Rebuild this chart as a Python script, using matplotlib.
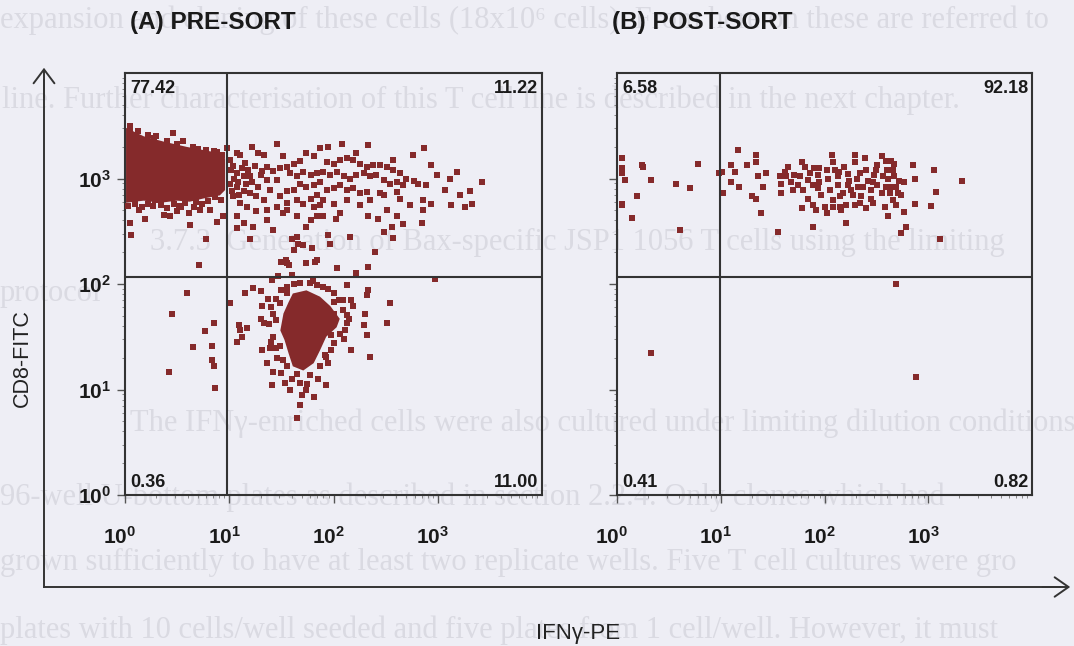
import matplotlib
matplotlib.use("Agg")
import matplotlib.pyplot as plt
import matplotlib.transforms as mtransforms
import numpy as np

plt.rcParams['font.family'] = ['Liberation Sans', 'DejaVu Sans']
plt.rcParams['mathtext.fontset'] = 'custom'
plt.rcParams['mathtext.rm'] = 'Liberation Sans'
plt.rcParams['mathtext.bf'] = 'Liberation Sans:bold'

# Events are stored as log10 of the fluorescence (x: IFNg-PE, y: CD8-FITC)

# (A) pre-sort: individual events
pre_x = [0.46, 0.56, 0.30, 0.05, 0.88, 0.78, 0.98,
         0.19, 0.05, 0.06, 0.13, 0.29, 0.37, 0.43, 0.62, 0.61, 0.78, 0.88, 0.72, 0.82,
         0.94, 0.66, 0.54, 0.50,
         1.07, 1.10, 1.22, 1.28, 1.33, 1.46, 1.52, 1.36, 1.42, 1.49, 1.55, 1.07, 1.14,
         1.20, 1.30, 1.36, 1.46, 1.07, 1.14, 1.20, 1.26, 1.33, 1.39, 1.49, 1.55, 1.10,
         1.17, 1.26, 1.36, 1.46, 1.52, 1.07, 1.14, 1.23, 1.36, 1.42, 1.07, 1.20, 1.54,
         1.01, 1.01, 1.02, 1.04,
         2.08, 2.33, 2.87, 2.76, 1.87, 1.95, 1.74, 2.22, 2.57, 2.94, 3.18, 3.42, 2.99,
         3.12, 3.31, 3.21, 3.33, 3.26, 3.13, 3.07, 2.94, 2.86, 2.86, 2.85, 2.73, 2.67,
         2.61, 2.56, 2.57, 2.48, 2.43, 2.33, 2.51, 2.40, 2.16, 1.97, 1.95, 2.06, 2.02,
         1.90, 1.84, 1.78, 1.74, 1.65, 1.55, 1.55, 1.62, 1.60, 1.65, 1.66, 1.71, 1.79,
         1.62, 1.74, 1.84, 1.55, 2.03, 2.33,
         1.55, 1.62, 1.68, 1.81, 1.94, 2.00, 2.06, 2.13, 2.19, 2.25, 2.32, 2.38, 2.45,
         2.51, 2.57, 2.64, 2.70, 2.77, 2.81, 2.89, 1.58, 1.65, 1.71, 1.78, 1.84, 1.90,
         1.97, 2.03, 2.10, 2.16, 2.22, 2.29, 2.35, 2.41, 2.48, 2.54, 2.61, 2.67, 1.68,
         1.74, 1.81, 1.87, 1.94, 2.00, 2.06, 2.13, 2.19, 2.25, 2.32, 2.45, 2.48, 2.61,
         2.64, 1.78, 1.84, 1.90, 1.71, 1.65, 1.81, 1.87, 2.00, 2.13, 2.25, 2.35,
         1.50, 1.57, 1.74, 1.82, 2.03, 2.33, 2.22, 1.47, 1.60, 2.97,
         1.01, 0.85, 0.77, 0.83, 0.83, 0.85, 0.86, 1.15, 1.23, 1.30, 1.37, 1.31, 1.30,
         1.33, 1.09, 1.10, 1.17, 1.12, 1.07, 1.31, 1.39, 1.45, 1.36, 1.42, 1.41, 1.53,
         1.68, 1.74, 1.81, 1.68, 1.65, 1.93, 2.13, 2.32, 2.33, 2.54, 2.51, 2.32, 2.29,
         2.30, 2.19, 2.17, 2.09, 2.00, 2.17, 2.35, 1.98, 1.92, 2.11, 2.13, 2.00, 1.84,
         1.77, 1.50, 1.55, 1.41,
         1.45, 1.42, 1.49, 1.68, 1.90, 2.00, 2.09, 2.13, 2.06, 2.00, 1.93, 1.87, 1.77,
         1.65, 1.55, 1.52, 1.49, 1.42,
         0.59, 0.45, 0.65, 0.42, 0.71,
         0.03, 0.10, 0.16, 0.22, 0.27, 0.35, 0.40, 0.47, 0.52, 0.58, 0.68, 0.74, 0.80,
         0.86, 0.92, 0.05, 0.12, 0.22, 0.28, 0.40, 0.50, 0.65, 0.70, 0.85, 0.93,
         1.04, 1.05, 1.08, 1.12, 1.15, 1.18, 1.22, 1.25, 1.28, 1.31, 1.03, 1.09, 1.16,
         1.45, 1.40, 1.55, 1.62, 1.80, 1.95, 2.05, 2.15, 2.10, 1.98, 1.95, 1.85, 1.75,
         1.60, 1.50, 1.46, 1.40, 1.38, 1.58, 1.70]
pre_y = [3.43, 3.36, 3.40, 3.44, 3.25, 3.27, 3.29,
         2.62, 2.58, 2.46, 2.70, 2.80, 2.65, 2.64, 2.56, 2.67, 2.43, 2.59, 2.70, 2.70,
         2.64, 2.73, 2.73, 2.69,
         3.24, 3.22, 3.30, 3.24, 3.22, 3.33, 3.21, 3.11, 3.07, 3.10, 3.11, 3.05, 3.02,
         3.02, 3.03, 2.99, 2.99, 2.92, 2.88, 2.86, 2.83, 2.80, 2.89, 2.83, 2.77, 2.77,
         2.73, 2.69, 2.70, 2.73, 2.67, 2.64, 2.58, 2.54, 2.61, 2.51, 2.53, 2.43, 2.23,
         3.18, 2.95, 3.08, 2.83,
         3.33, 3.32, 3.29, 3.22, 3.29, 3.30, 3.24, 3.24, 3.18, 3.13, 3.06, 2.97, 3.03,
         3.00, 2.88, 2.84, 2.76, 2.73, 2.75, 2.89, 2.76, 2.80, 2.70, 2.58, 2.75, 2.57,
         2.64, 2.54, 2.44, 2.49, 2.62, 2.64, 2.70, 2.30, 2.45, 2.38, 2.46, 2.67, 2.62,
         2.64, 2.64, 2.61, 2.54, 2.64, 2.70, 2.88, 2.89, 2.43, 2.45, 2.38, 2.37, 2.34,
         2.32, 2.20, 2.23, 2.20, 2.15, 2.16,
         3.11, 3.14, 3.17, 3.21, 3.16, 3.14, 3.18, 3.19, 3.18, 3.14, 3.11, 3.13, 3.13,
         3.11, 3.08, 3.05, 3.00, 2.98, 2.95, 2.94, 3.05, 3.02, 3.06, 3.03, 3.05, 3.06,
         3.03, 3.06, 3.02, 3.00, 3.03, 3.05, 3.02, 3.03, 2.99, 2.95, 2.97, 2.94, 2.95,
         2.92, 2.94, 2.97, 2.89, 2.91, 2.94, 2.89, 2.91, 2.86, 2.87, 2.86, 2.84, 2.87,
         2.81, 2.81, 2.84, 2.80, 2.76, 2.80, 2.73, 2.75, 2.76, 2.80, 2.75, 2.80,
         2.21, 2.18, 2.20, 2.21, 2.15, 2.16, 2.10, 2.08, 2.09, 2.05,
         1.82, 1.63, 1.55, 1.41, 1.28, 1.22, 1.01, 1.91, 1.96, 1.93, 1.86, 1.79, 1.67,
         1.63, 1.61, 1.56, 1.58, 1.50, 1.45, 1.37, 1.39, 1.39, 1.25, 1.17, 1.04, 1.06,
         1.06, 1.00, 0.93, 0.85, 0.73, 1.04, 1.99, 1.90, 1.94, 1.82, 1.63, 1.52, 1.61,
         1.72, 1.79, 1.85, 1.85, 1.83, 1.37, 1.31, 1.37, 1.33, 1.56, 1.71, 1.72, 1.99,
         2.01, 1.94, 1.91, 2.04,
         1.66, 1.72, 1.82, 2.01, 1.97, 1.91, 1.75, 1.63, 1.53, 1.44, 1.31, 1.22, 1.14,
         1.15, 1.22, 1.28, 1.41, 1.50,
         1.91, 1.72, 1.40, 1.17, 2.18,
         2.74, 2.76, 2.73, 2.76, 2.74, 2.75, 2.72, 2.76, 2.74, 2.77, 2.78, 2.76, 2.79,
         2.82, 2.80, 3.50, 3.45, 3.41, 3.38, 3.36, 3.33, 3.30, 3.28, 3.26, 3.22,
         3.12, 3.00, 2.97, 3.10, 3.15, 3.08, 2.97, 3.12, 2.92, 3.07, 2.88, 2.84, 2.95,
         1.86, 1.78, 1.97, 2.00, 2.03, 1.95, 1.85, 1.67, 1.48, 1.52, 1.25, 1.10, 1.05,
         1.10, 1.16, 1.30, 1.45, 1.62, 1.00, 0.95]

# (A) saturated regions where events merge into a solid patch (outline vertices)
pre_cd8_core_x = [0.01, 0.18, 0.37, 0.59, 0.75, 0.91, 0.96, 0.96, 0.91, 0.75, 0.62,
                  0.50, 0.34, 0.18, 0.01]
pre_cd8_core_y = [3.48, 3.40, 3.35, 3.30, 3.27, 3.24, 3.19, 2.89, 2.84, 2.81, 2.78,
                  2.79, 2.77, 2.79, 2.77]
pre_ifn_core_x = [1.61, 1.74, 1.87, 1.97, 2.06, 2.03, 1.93, 1.87, 1.81, 1.71, 1.61,
                  1.57, 1.53, 1.49, 1.52, 1.57]
pre_ifn_core_y = [1.91, 1.94, 1.88, 1.79, 1.67, 1.59, 1.50, 1.37, 1.25, 1.18, 1.22,
                  1.34, 1.47, 1.56, 1.72, 1.83]

# (B) post-sort events
post_x = [0.05, 0.05, 0.05, 0.08, 0.05, 0.14, 0.19, 0.24, 0.25, 0.33, 0.57, 0.61,
          0.70, 0.78, 0.98, 0.05, 0.33,
          1.01, 1.02, 1.10, 1.14, 1.17, 1.10, 1.18, 1.25, 1.30, 1.34, 1.34, 1.34, 1.36,
          1.41, 1.39, 1.44, 1.55, 1.58, 1.58, 1.57, 1.62, 1.65, 1.68, 1.71, 1.74, 1.78,
          1.78, 1.81, 1.84, 1.84, 1.89, 1.89, 1.90, 1.94, 1.94, 1.97, 2.00, 2.02, 2.03,
          2.07, 2.08, 2.10, 2.13, 2.13, 2.15, 2.15, 2.16, 2.19, 2.21, 2.23, 2.23, 2.26,
          2.29, 2.29, 2.29, 2.31, 2.32, 2.35, 2.39, 2.40, 2.40, 2.42, 2.45, 2.45, 2.48,
          2.51, 2.51, 2.55, 2.55, 2.58, 2.60, 2.61, 2.61, 2.64, 2.64, 2.66, 2.67, 2.67,
          2.69, 2.71, 2.74, 2.74, 2.77, 2.77, 2.79, 2.85, 2.87, 2.87, 3.03, 3.06, 3.07,
          3.11, 3.33,
          1.70, 1.79, 1.89, 1.95, 2.05, 2.08, 2.18, 2.27, 2.37, 2.47, 2.56, 2.59, 2.63,
          2.69, 2.72, 2.50, 2.34, 2.24, 2.14, 2.02, 1.95, 1.86, 1.76, 1.63, 2.47, 2.34,
          2.21, 2.08, 1.92, 2.66, 2.59,
          2.69, 2.88]
post_y = [3.19, 3.10, 3.05, 2.99, 2.75, 2.63, 2.83, 3.13, 3.11, 2.99, 2.95, 2.51,
          2.91, 3.14, 3.05, 2.76, 1.35,
          3.06, 2.86, 3.13, 3.06, 3.27, 2.97, 2.92, 3.13, 2.83, 2.81, 3.22, 3.16, 3.02,
          2.92, 2.67, 3.05, 2.49, 2.86, 2.95, 3.02, 3.06, 3.11, 2.97, 3.03, 2.94, 3.16,
          2.72, 3.11, 2.99, 2.81, 2.75, 2.54, 3.10, 3.03, 2.91, 2.84, 2.73, 2.67, 3.00,
          3.22, 3.16, 3.08, 3.02, 2.94, 2.83, 2.73, 2.70, 3.11, 2.58, 3.04, 2.94, 2.89,
          3.22, 3.16, 2.75, 3.00, 2.92, 2.83, 3.19, 3.08, 2.72, 2.98, 2.89, 2.81, 3.03,
          3.13, 2.94, 3.21, 2.86, 2.73, 3.08, 3.00, 2.64, 3.17, 2.92, 2.80, 3.14, 3.02,
          2.75, 2.86, 2.84, 2.48, 2.97, 2.68, 2.54, 3.13, 3.00, 2.76, 2.74, 3.08, 2.87,
          2.43, 2.98,
          2.89, 2.89, 2.94, 2.97, 2.89, 2.80, 2.86, 2.84, 2.92, 2.97, 3.02, 2.92, 2.86,
          2.92, 2.98, 3.08, 3.05, 2.98, 3.06, 3.08, 3.10, 3.05, 3.02, 3.02, 2.77, 2.77,
          2.75, 2.73, 2.70, 3.08, 3.17,
          2.00, 1.12]

# quadrant gates (log10) and percentages: UL, UR, LL, LR
pre_gate = (0.98, 2.07)
post_gate = (0.99, 2.07)
pre_pct = ['77.42', '11.22', '0.36', '11.00']
post_pct = ['6.58', '92.18', '0.41', '0.82']
decades = [0, 1, 2, 3]

# faint text showing through from the other side of the page: (x px, y px, text)
page_lines = [
    (0, 20, "expansion and cloning of these cells (18x10\u2076 cells). From here on these are referred to"),
    (2, 100, "line. Further characterisation of this T cell line is described in the next chapter."),
    (150, 242, "3.7.3  Generation of Bax-specific JSP1 1056 T cells using the limiting"),
    (0, 293, "protocol"),
    (130, 423, "The IFN\u03b3-enriched cells were also cultured under limiting dilution conditions"),
    (0, 497, "96-well U-bottom plates as described in section 2.2.4. Only clones which had"),
    (0, 562, "grown sufficiently to have at least two replicate wells. Five T cell cultures were gro"),
    (0, 630, "plates with 10 cells/well seeded and five plates from 1 cell/well. However, it must"),
]

W, H = 1074, 646
bg = '#eeeef5'
dot = '#852a2b'
ink = '#333333'

fig = plt.figure(figsize=(W / 100, H / 100), dpi=100, facecolor=bg)

# full-figure layer in pixel units for the page text and the outer axis arrows
base = fig.add_axes([0, 0, 1, 1], zorder=0)
base.set_xlim(0, W)
base.set_ylim(H, 0)
base.axis('off')
for px, py, txt in page_lines:
    base.text(px, py, txt, fontsize=22, family='Liberation Serif', color='#dadae2',
              va='center', ha='left', zorder=0)
base.plot([44, 44], [587, 80], color=ink, lw=1.4, zorder=2)
base.plot([44, 1060], [587, 587], color=ink, lw=1.4, zorder=2)
base.annotate('', xy=(44, 65), xytext=(44, 100),
              arrowprops=dict(arrowstyle='->,head_length=1.0,head_width=0.75',
                              mutation_scale=10, lw=1.4, color=ink))
base.annotate('', xy=(1073, 587), xytext=(1040, 587),
              arrowprops=dict(arrowstyle='->,head_length=1.0,head_width=0.7',
                              mutation_scale=10, lw=1.4, color=ink))
base.text(22, 358, 'CD8-FITC', rotation=90, fontsize=15.5, color='#222222',
          ha='center', va='center', zorder=3)
base.text(578, 633, 'IFN\u03b3-PE', fontsize=16, color='#222222', ha='center',
          va='center', zorder=3)


def panel(left_px, width_px, xs, ys, gate, pct, title, title_x, label_y, cores=()):
    ax = fig.add_axes([left_px / W, (H - 495) / H, width_px / W, 422 / H], zorder=3)
    ax.set_facecolor('none')
    ax.set_xscale('log')
    ax.set_yscale('log')
    for cx, cy in cores:
        ax.fill(10 ** np.array(cx), 10 ** np.array(cy), color=dot, lw=0, zorder=2)
    ax.scatter(10 ** np.array(xs), 10 ** np.array(ys), s=14, marker='s', color=dot,
               linewidths=0, zorder=3)
    ax.axvline(10 ** gate[0], color=ink, lw=1.5, zorder=4)
    ax.axhline(10 ** gate[1], color=ink, lw=1.5, zorder=4)
    ax.set_xlim(1, 1e4)
    ax.set_ylim(1, 1e4)
    for sp in ax.spines.values():
        sp.set_color(ink)
        sp.set_linewidth(1.5)
    ticks = [10 ** d for d in decades]
    labels = [r'$\mathbf{10^{%d}}$' % d for d in decades]
    ax.set_xticks(ticks)
    ax.set_xticklabels(labels)
    ax.set_yticks(ticks)
    ax.set_yticklabels(labels if label_y else [])
    ax.tick_params(which='major', direction='out', length=6, width=1, color='#555555',
                   labelsize=15, labelcolor='#1a1a1a')
    ax.tick_params(axis='x', which='major', pad=16)
    ax.tick_params(axis='y', which='major', pad=4)
    ax.tick_params(which='minor', direction='out', length=2.5, width=0.6, color='#777777')
    shift = mtransforms.ScaledTranslation(-5 / 100, 0, fig.dpi_scale_trans)
    for lab in ax.get_xticklabels():
        lab.set_transform(lab.get_transform() + shift)

    kw = dict(fontsize=13, fontweight='bold', color='#1a1a1a', xycoords='axes fraction',
              textcoords='offset pixels', zorder=5)
    ax.annotate(pct[0], (0, 1), xytext=(5, -7), ha='left', va='top', **kw)
    ax.annotate(pct[1], (1, 1), xytext=(-4, -7), ha='right', va='top', **kw)
    ax.annotate(pct[2], (0, 0), xytext=(5, 4), ha='left', va='bottom', **kw)
    ax.annotate(pct[3], (1, 0), xytext=(-4, 4), ha='right', va='bottom', **kw)

    fig.text(title_x / W, 1 - 22 / H, title, fontsize=17.5, fontweight='bold',
             color='#1a1a1a', ha='left', va='center', zorder=5)
    return ax


panel(125, 417, pre_x, pre_y, pre_gate, pre_pct, '(A) PRE-SORT', 130, True,
      cores=[(pre_cd8_core_x, pre_cd8_core_y), (pre_ifn_core_x, pre_ifn_core_y)])
panel(617, 415, post_x, post_y, post_gate, post_pct, '(B) POST-SORT', 612, False)

fig.savefig('out.png', dpi=100, facecolor=bg)
